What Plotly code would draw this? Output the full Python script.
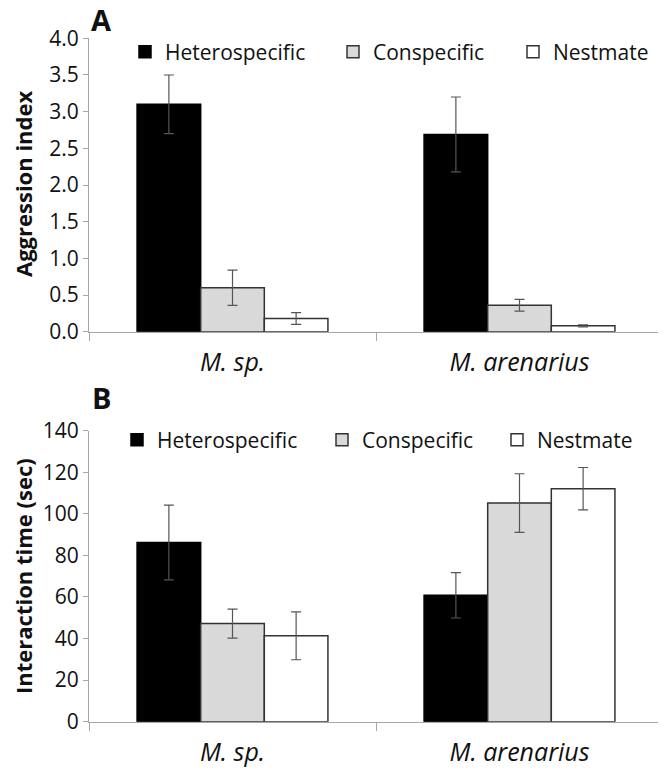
import plotly.graph_objects as go

categories = ["M. sp.", "M. arenarius"]
series = ["Heterospecific", "Conspecific", "Nestmate"]

aggr_values = {
    "Heterospecific": [3.10, 2.69],
    "Conspecific": [0.60, 0.36],
    "Nestmate": [0.18, 0.08],
}
aggr_errors = {
    "Heterospecific": [0.40, 0.51],
    "Conspecific": [0.24, 0.08],
    "Nestmate": [0.08, 0.015],
}
time_values = {
    "Heterospecific": [86.2, 60.8],
    "Conspecific": [47.2, 105.2],
    "Nestmate": [41.3, 112.1],
}
time_errors = {
    "Heterospecific": [18.0, 10.9],
    "Conspecific": [7.0, 14.1],
    "Nestmate": [11.5, 10.2],
}

aggr_ticks = [0.0, 0.5, 1.0, 1.5, 2.0, 2.5, 3.0, 3.5, 4.0]
time_ticks = [0, 20, 40, 60, 80, 100, 120, 140]

fills = {"Heterospecific": "#000000", "Conspecific": "#d9d9d9", "Nestmate": "#ffffff"}
edges = {"Heterospecific": "#000000", "Conspecific": "#333333", "Nestmate": "#333333"}
legend_w_A = {"Heterospecific": 163, "Conspecific": 135, "Nestmate": 100}
legend_w_B = {"Heterospecific": 160, "Conspecific": 130, "Nestmate": 100}

# The page body adds an 8px offset; size the figure to fit the 666x775 window.
OFF = 8
W, H = 666 - OFF, 775 - OFF
FONT = "Open Sans"
TXT = "#111111"
AX = "#a6a6a6"


def px(x):
    return (x - OFF) / W


def py(y):
    return 1 - (y - OFF) / H


fig = go.Figure()
for s in series:
    fig.add_trace(go.Bar(
        x=categories, y=aggr_values[s], name=s,
        marker=dict(color=fills[s], line=dict(color=edges[s], width=1.5)),
        error_y=dict(type="data", array=aggr_errors[s], color="#555555", thickness=1.2, width=5),
        xaxis="x", yaxis="y", legend="legend", legendwidth=legend_w_A[s],
    ))
for s in series:
    fig.add_trace(go.Bar(
        x=categories, y=time_values[s], name=s,
        marker=dict(color=fills[s], line=dict(color=edges[s], width=1.5)),
        error_y=dict(type="data", array=time_errors[s], color="#555555", thickness=1.2, width=5),
        xaxis="x2", yaxis="y2", legend="legend2", legendwidth=legend_w_B[s],
    ))

xdom = [px(89), px(663)]
ydomA = [py(331.7), py(38.3)]
ydomB = [py(721.7), py(430.7)]

xcommon = dict(
    domain=xdom, type="category", showline=True, linecolor=AX, linewidth=1,
    ticks="outside", tickson="boundaries", ticklen=8, tickcolor=AX,
    tickfont=dict(family=FONT, size=25, color=TXT, style="italic"),
    ticklabelstandoff=8, showgrid=False, zeroline=False, fixedrange=True,
    automargin=False,
)
ycommon = dict(
    showline=True, linecolor=AX, linewidth=1, ticks="outside", ticklen=5,
    tickcolor=AX, tickfont=dict(family=FONT, size=21, color=TXT),
    showgrid=False, zeroline=False, fixedrange=True, automargin=False,
)

fig.update_layout(
    template="none",
    width=W, height=H, margin=dict(l=0, r=0, t=0, b=0, autoexpand=False),
    paper_bgcolor="white", plot_bgcolor="white",
    barmode="group", bargap=0.335, bargroupgap=0,
    font=dict(family=FONT, color=TXT),
    xaxis=dict(**xcommon, anchor="y"),
    xaxis2=dict(**xcommon, anchor="y2"),
    yaxis=dict(**ycommon, domain=ydomA, range=[0, 4.0], tickvals=aggr_ticks,
               ticktext=[f"{v:.1f}" for v in aggr_ticks], anchor="x"),
    yaxis2=dict(**ycommon, domain=ydomB, range=[0, 140], tickvals=time_ticks,
                ticktext=[str(v) for v in time_ticks], anchor="x2"),
    legend=dict(orientation="h", x=px(125), xanchor="left", y=py(52), yanchor="middle",
                font=dict(family=FONT, size=21, color=TXT), bgcolor="rgba(0,0,0,0)",
                itemwidth=30, traceorder="normal"),
    legend2=dict(orientation="h", x=px(117), xanchor="left", y=py(440), yanchor="middle",
                 font=dict(family=FONT, size=21, color=TXT), bgcolor="rgba(0,0,0,0)",
                 itemwidth=30, traceorder="normal"),
    annotations=[
        dict(text="<b>A</b>", x=px(101), y=py(19), xref="paper", yref="paper",
             xanchor="center", yanchor="middle",
             showarrow=False, font=dict(family=FONT, size=29, color=TXT)),
        dict(text="<b>B</b>", x=px(101), y=py(397), xref="paper", yref="paper",
             xanchor="center", yanchor="middle",
             showarrow=False, font=dict(family=FONT, size=29, color=TXT)),
        dict(text="<b>Aggression index</b>", x=px(23), y=py(184), xref="paper", yref="paper",
             xanchor="center", yanchor="middle",
             textangle=-90, showarrow=False, font=dict(family=FONT, size=22, color=TXT)),
        dict(text="<b>Interaction time (sec)</b>", x=px(23), y=py(576), xref="paper", yref="paper",
             xanchor="center", yanchor="middle",
             textangle=-90, showarrow=False, font=dict(family=FONT, size=22, color=TXT)),
    ],
)

fig.write_html("out.html")
